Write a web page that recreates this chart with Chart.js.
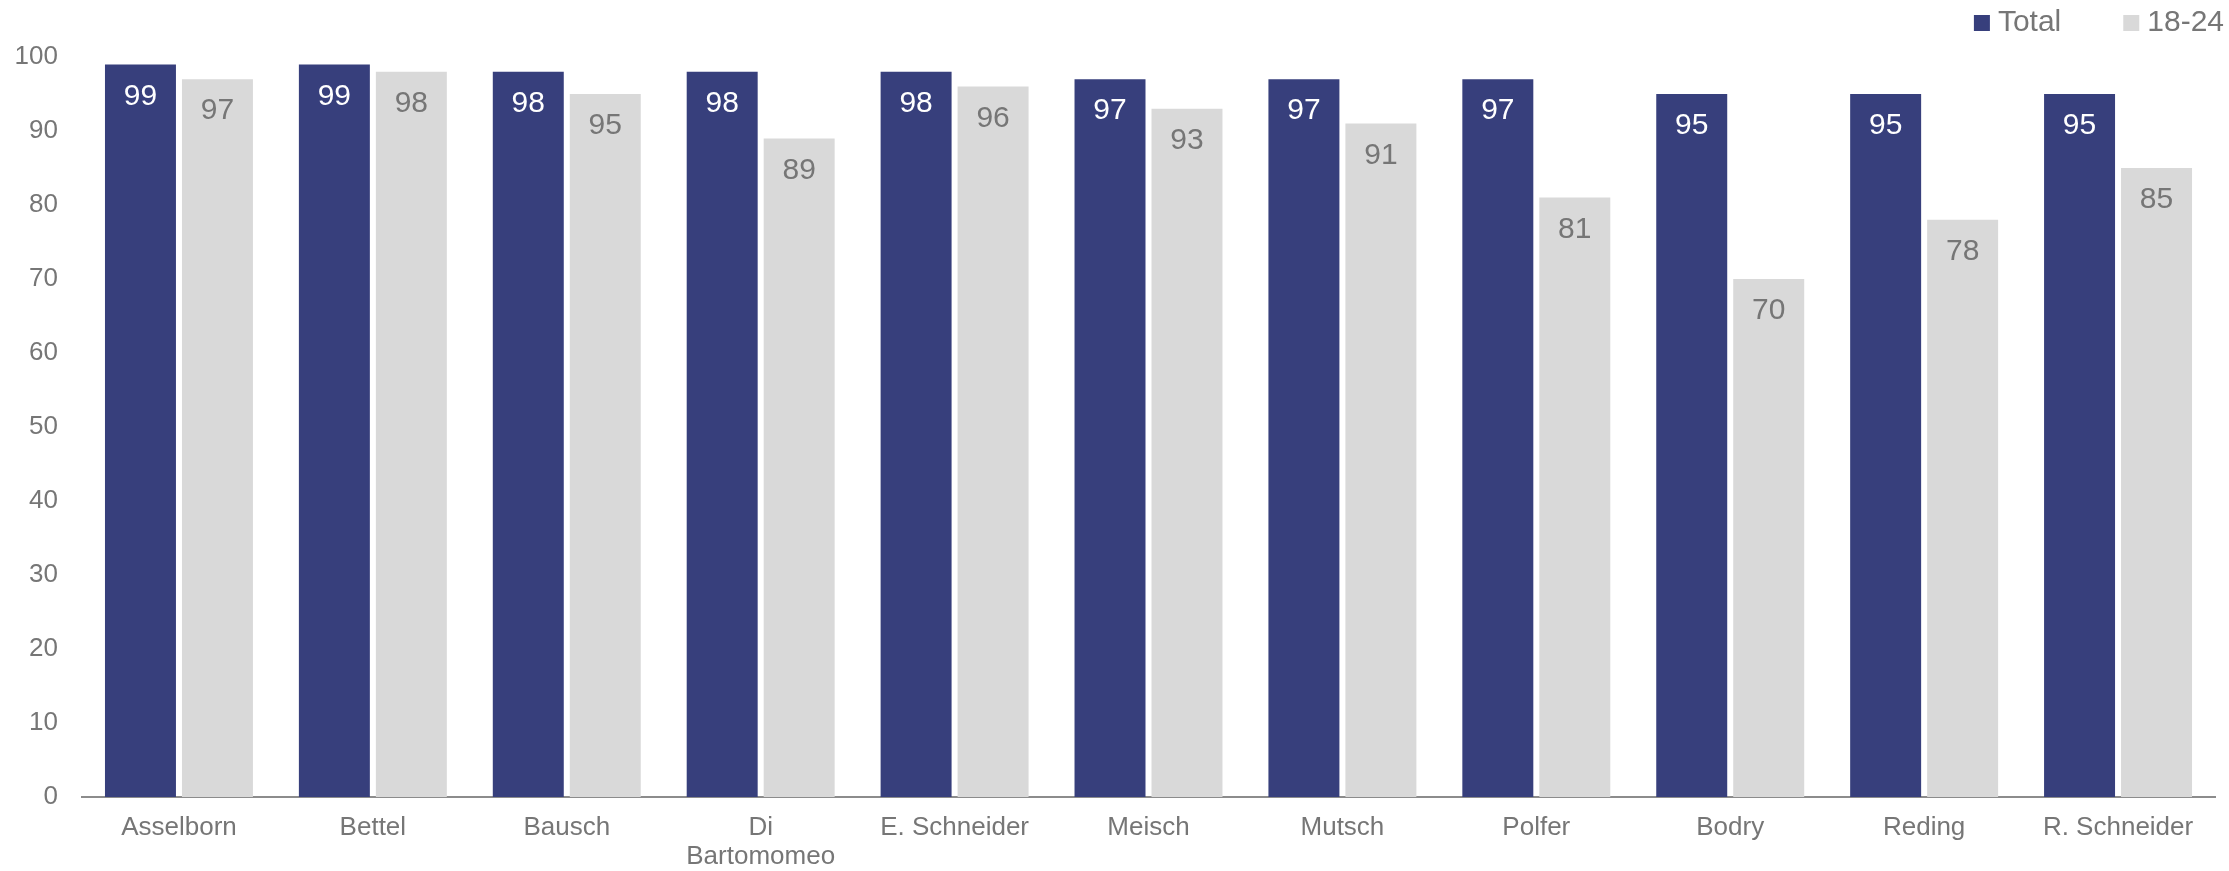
<!DOCTYPE html>
<html>
<head>
<meta charset="utf-8">
<script src="https://cdn.jsdelivr.net/npm/chart.js@4"></script>
<style>
  html, body { margin: 0; padding: 0; background: #fff; }
  #wrap { width: 2229px; height: 871px; }
</style>
</head>
<body>
<div id="wrap"><canvas id="chart" width="2229" height="871"></canvas></div>
<script>
const categories = ['Asselborn', 'Bettel', 'Bausch', ['Di', 'Bartomomeo'], 'E. Schneider', 'Meisch', 'Mutsch', 'Polfer', 'Bodry', 'Reding', 'R. Schneider'];
const totalValues = [99, 99, 98, 98, 98, 97, 97, 97, 95, 95, 95];
const youngValues = [97, 98, 95, 89, 96, 93, 91, 81, 70, 78, 85];
const seriesNames = ['Total', '18-24'];

const NAVY = '#373F7C';
const LIGHT = '#D9D9D9';
const TEXT = '#767676';
const FONT = '"Liberation Sans", Arial, sans-serif';

// value labels inside the top of each bar
const barLabels = {
  id: 'barLabels',
  afterDatasetsDraw(chart) {
    const ctx = chart.ctx;
    ctx.save();
    ctx.font = `30px ${FONT}`;
    ctx.textAlign = 'center';
    ctx.textBaseline = 'middle';
    chart.data.datasets.forEach((ds, i) => {
      const meta = chart.getDatasetMeta(i);
      ctx.fillStyle = i === 0 ? '#ffffff' : TEXT;
      meta.data.forEach((bar, j) => {
        ctx.fillText(String(ds.data[j]), bar.x, bar.y + 32);
      });
    });
    ctx.restore();
  }
};

// legend in the top right corner
const cornerLegend = {
  id: 'cornerLegend',
  afterDraw(chart) {
    const ctx = chart.ctx;
    ctx.save();
    ctx.font = `30px ${FONT}`;
    ctx.textBaseline = 'middle';
    ctx.textAlign = 'left';
    let right = chart.width - 5;
    const y = 23;
    const items = chart.data.datasets.slice().reverse();
    items.forEach((ds) => {
      const w = ctx.measureText(ds.label).width;
      const textX = right - w;
      const boxX = textX - 8 - 16;
      ctx.fillStyle = ds.backgroundColor;
      ctx.fillRect(boxX, y - 8, 16, 16);
      ctx.fillStyle = TEXT;
      ctx.fillText(ds.label, textX, y);
      right = boxX - 62;
    });
    ctx.restore();
  }
};

new Chart(document.getElementById('chart'), {
  type: 'bar',
  data: {
    labels: categories,
    datasets: [
      { label: seriesNames[0], data: totalValues, backgroundColor: NAVY, barPercentage: 0.922, categoryPercentage: 0.794 },
      { label: seriesNames[1], data: youngValues, backgroundColor: LIGHT, barPercentage: 0.922, categoryPercentage: 0.794 }
    ]
  },
  options: {
    responsive: false,
    animation: false,
    layout: { padding: { top: 57, right: 14, bottom: 0, left: 0 } },
    plugins: { legend: { display: false }, tooltip: { enabled: false } },
    scales: {
      x: {
        grid: { display: false, drawTicks: false },
        border: { color: '#8c8c8c', width: 2 },
        ticks: { color: TEXT, padding: 16, font: { family: FONT, size: 26, lineHeight: 1.135 }, maxRotation: 0, autoSkip: false },
        afterFit: (s) => { s.height = 74; }
      },
      y: {
        min: 0,
        max: 100,
        grid: { display: false, drawTicks: false },
        border: { display: false },
        ticks: { stepSize: 10, color: TEXT, padding: 24, font: { family: FONT, size: 26 } },
        afterFit: (s) => { s.width = 82; }
      }
    }
  },
  plugins: [barLabels, cornerLegend]
});
</script>
</body>
</html>
